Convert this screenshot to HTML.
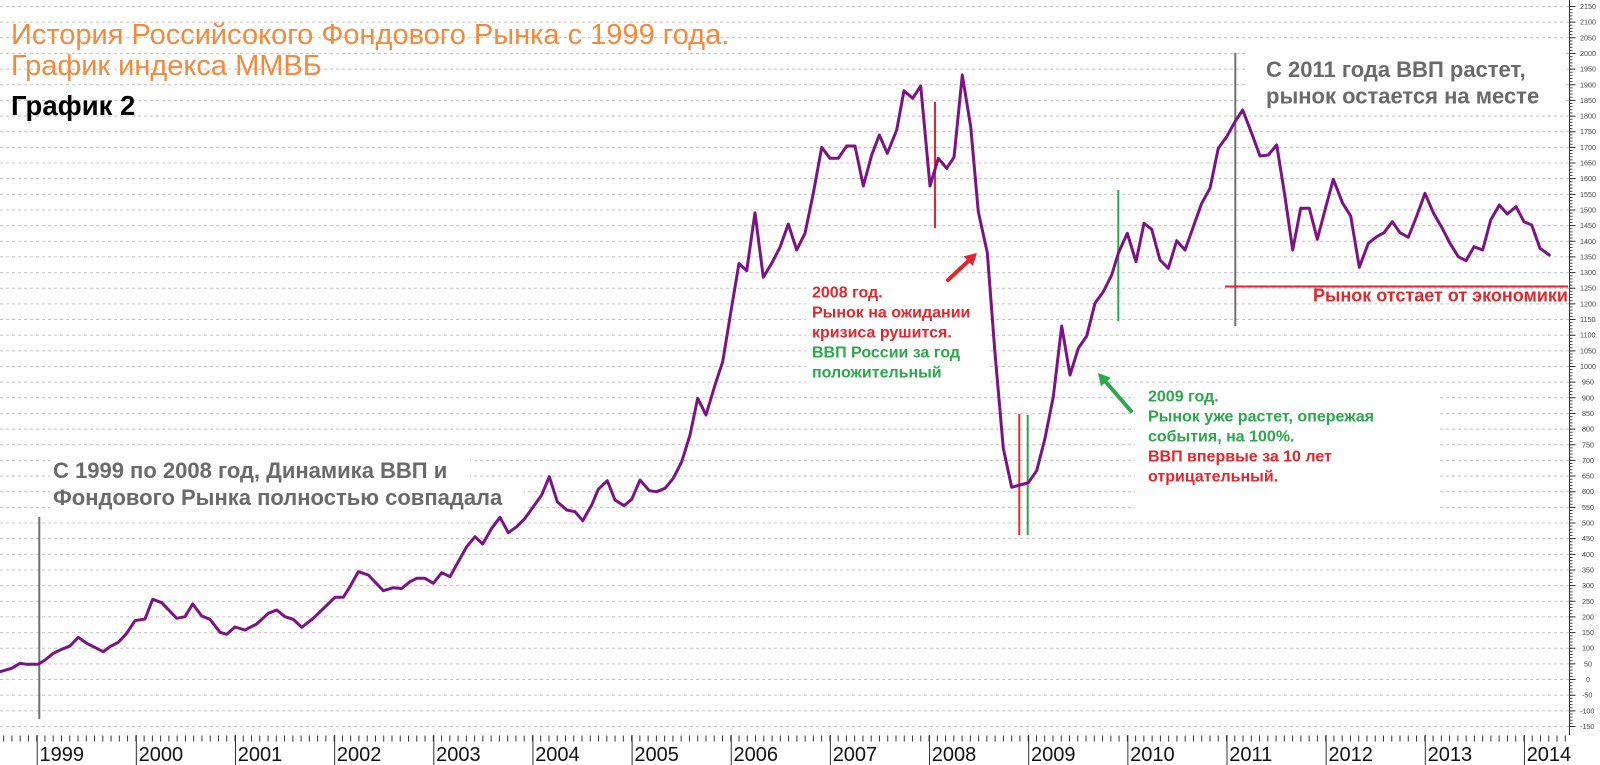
<!DOCTYPE html>
<html><head><meta charset="utf-8"><style>
html,body{margin:0;padding:0;background:#fff;}
svg{display:block;font-family:"Liberation Sans","DejaVu Sans",sans-serif;}
</style></head><body>
<svg width="1600" height="765" viewBox="0 0 1600 765" xmlns="http://www.w3.org/2000/svg">
<rect width="1600" height="765" fill="#fff"/>
<g stroke="#c4c4c4" stroke-width="1" stroke-dasharray="3,3">
<line x1="0" x2="1569" y1="6.5" y2="6.5"/><line x1="0" x2="1569" y1="22.15" y2="22.15"/><line x1="0" x2="1569" y1="37.8" y2="37.8"/><line x1="0" x2="1569" y1="53.46" y2="53.46"/><line x1="0" x2="1569" y1="69.11" y2="69.11"/><line x1="0" x2="1569" y1="84.76" y2="84.76"/><line x1="0" x2="1569" y1="100.41" y2="100.41"/><line x1="0" x2="1569" y1="116.07" y2="116.07"/><line x1="0" x2="1569" y1="131.72" y2="131.72"/><line x1="0" x2="1569" y1="147.37" y2="147.37"/><line x1="0" x2="1569" y1="163.02" y2="163.02"/><line x1="0" x2="1569" y1="178.67" y2="178.67"/><line x1="0" x2="1569" y1="194.33" y2="194.33"/><line x1="0" x2="1569" y1="209.98" y2="209.98"/><line x1="0" x2="1569" y1="225.63" y2="225.63"/><line x1="0" x2="1569" y1="241.28" y2="241.28"/><line x1="0" x2="1569" y1="256.93" y2="256.93"/><line x1="0" x2="1569" y1="272.59" y2="272.59"/><line x1="0" x2="1569" y1="288.24" y2="288.24"/><line x1="0" x2="1569" y1="303.89" y2="303.89"/><line x1="0" x2="1569" y1="319.54" y2="319.54"/><line x1="0" x2="1569" y1="335.2" y2="335.2"/><line x1="0" x2="1569" y1="350.85" y2="350.85"/><line x1="0" x2="1569" y1="366.5" y2="366.5"/><line x1="0" x2="1569" y1="382.15" y2="382.15"/><line x1="0" x2="1569" y1="397.8" y2="397.8"/><line x1="0" x2="1569" y1="413.46" y2="413.46"/><line x1="0" x2="1569" y1="429.11" y2="429.11"/><line x1="0" x2="1569" y1="444.76" y2="444.76"/><line x1="0" x2="1569" y1="460.41" y2="460.41"/><line x1="0" x2="1569" y1="476.07" y2="476.07"/><line x1="0" x2="1569" y1="491.72" y2="491.72"/><line x1="0" x2="1569" y1="507.37" y2="507.37"/><line x1="0" x2="1569" y1="523.02" y2="523.02"/><line x1="0" x2="1569" y1="538.67" y2="538.67"/><line x1="0" x2="1569" y1="554.33" y2="554.33"/><line x1="0" x2="1569" y1="569.98" y2="569.98"/><line x1="0" x2="1569" y1="585.63" y2="585.63"/><line x1="0" x2="1569" y1="601.28" y2="601.28"/><line x1="0" x2="1569" y1="616.93" y2="616.93"/><line x1="0" x2="1569" y1="632.59" y2="632.59"/><line x1="0" x2="1569" y1="648.24" y2="648.24"/><line x1="0" x2="1569" y1="663.89" y2="663.89"/><line x1="0" x2="1569" y1="679.54" y2="679.54"/><line x1="0" x2="1569" y1="695.2" y2="695.2"/><line x1="0" x2="1569" y1="710.85" y2="710.85"/><line x1="0" x2="1569" y1="726.5" y2="726.5"/>
</g>
<!-- white text backgrounds -->
<g fill="#fff">
<rect x="50" y="459" width="420" height="24"/>
<rect x="50" y="483" width="474" height="26"/>
<rect x="1247" y="44" width="318" height="70"/>
<rect x="806" y="283" width="182" height="102"/>
<rect x="1135" y="384" width="302" height="124"/>
</g>
<!-- right axis -->
<line x1="1569.5" y1="0" x2="1569.5" y2="735" stroke="#333" stroke-width="1"/>
<line x1="1571" y1="6" x2="1571" y2="727" stroke="#444" stroke-width="3" stroke-dasharray="1 2.1304"/>
<line x1="1572.5" y1="6" x2="1572.5" y2="727" stroke="#333" stroke-width="6" stroke-dasharray="1 14.652"/>
<g font-size="7.2" fill="#444">
<text x="1580" y="9">2150</text><text x="1580" y="24.6">2100</text><text x="1580" y="40.3">2050</text><text x="1580" y="56">2000</text><text x="1580" y="71.6">1950</text><text x="1580" y="87.3">1900</text><text x="1580" y="102.9">1850</text><text x="1580" y="118.6">1800</text><text x="1580" y="134.2">1750</text><text x="1580" y="149.9">1700</text><text x="1580" y="165.5">1650</text><text x="1580" y="181.2">1600</text><text x="1580" y="196.8">1550</text><text x="1580" y="212.5">1500</text><text x="1580" y="228.1">1450</text><text x="1580" y="243.8">1400</text><text x="1580" y="259.4">1350</text><text x="1580" y="275.1">1300</text><text x="1580" y="290.7">1250</text><text x="1580" y="306.4">1200</text><text x="1580" y="322">1150</text><text x="1580" y="337.7">1100</text><text x="1580" y="353.4">1050</text><text x="1580" y="369">1000</text><text x="1582" y="384.7">950</text><text x="1582" y="400.3">900</text><text x="1582" y="416">850</text><text x="1582" y="431.6">800</text><text x="1582" y="447.3">750</text><text x="1582" y="462.9">700</text><text x="1582" y="478.6">650</text><text x="1582" y="494.2">600</text><text x="1582" y="509.9">550</text><text x="1582" y="525.5">500</text><text x="1582" y="541.2">450</text><text x="1582" y="556.8">400</text><text x="1582" y="572.5">350</text><text x="1582" y="588.1">300</text><text x="1582" y="603.8">250</text><text x="1582" y="619.4">200</text><text x="1582" y="635.1">150</text><text x="1582" y="650.7">100</text><text x="1584" y="666.4">50</text><text x="1586" y="682">0</text><text x="1582" y="697.7">-50</text><text x="1580" y="713.4">-100</text><text x="1580" y="729">-150</text>
</g>
<!-- bottom axis -->
<line x1="3.15" y1="738.5" x2="1569" y2="738.5" stroke="#333" stroke-width="6" stroke-dasharray="1 7.2625"/>
<g stroke="#333" stroke-width="1">
<line x1="37.2" y1="735" x2="37.2" y2="765"/><line x1="136.35" y1="735" x2="136.35" y2="765"/><line x1="235.5" y1="735" x2="235.5" y2="765"/><line x1="334.65" y1="735" x2="334.65" y2="765"/><line x1="433.8" y1="735" x2="433.8" y2="765"/><line x1="532.95" y1="735" x2="532.95" y2="765"/><line x1="632.1" y1="735" x2="632.1" y2="765"/><line x1="731.25" y1="735" x2="731.25" y2="765"/><line x1="830.4" y1="735" x2="830.4" y2="765"/><line x1="929.55" y1="735" x2="929.55" y2="765"/><line x1="1028.7" y1="735" x2="1028.7" y2="765"/><line x1="1127.85" y1="735" x2="1127.85" y2="765"/><line x1="1227" y1="735" x2="1227" y2="765"/><line x1="1326.15" y1="735" x2="1326.15" y2="765"/><line x1="1425.3" y1="735" x2="1425.3" y2="765"/><line x1="1524.45" y1="735" x2="1524.45" y2="765"/>
</g>
<g font-size="20" fill="#111">
<text x="39.5" y="761">1999</text><text x="138.6" y="761">2000</text><text x="237.8" y="761">2001</text><text x="336.9" y="761">2002</text><text x="436.1" y="761">2003</text><text x="535.2" y="761">2004</text><text x="634.4" y="761">2005</text><text x="733.5" y="761">2006</text><text x="832.7" y="761">2007</text><text x="931.8" y="761">2008</text><text x="1031" y="761">2009</text><text x="1130.1" y="761">2010</text><text x="1229.3" y="761">2011</text><text x="1328.4" y="761">2012</text><text x="1427.6" y="761">2013</text><text x="1526.7" y="761">2014</text>
</g>
<!-- annotation lines -->
<line x1="39.3" y1="517" x2="39.3" y2="719" stroke="#707070" stroke-width="2"/>
<line x1="1235.3" y1="53" x2="1235.3" y2="326" stroke="#707070" stroke-width="2"/>
<line x1="1225" y1="286.5" x2="1568" y2="286.5" stroke="#e5252b" stroke-width="2"/>
<line x1="935" y1="102" x2="935" y2="228" stroke="#e5252b" stroke-width="2"/>
<line x1="1019.3" y1="414" x2="1019.3" y2="535" stroke="#e5252b" stroke-width="2"/>
<line x1="1027.7" y1="415" x2="1027.7" y2="535" stroke="#2aa84a" stroke-width="2"/>
<line x1="1118.3" y1="190" x2="1118.3" y2="321" stroke="#2aa84a" stroke-width="2"/>
<!-- series -->
<polyline fill="none" stroke="#7b1285" stroke-width="3" stroke-linejoin="round" stroke-linecap="round" points="0,671.7 11.7,668.3 20,663.3 26.7,664.3 38.3,664.3 45,660 53.3,653.3 61.7,649.3 70,646 78.3,637.3 86.7,643.3 103.3,651.7 110,646.7 118.3,642.3 126.7,633.3 135,620.7 145,619 152.7,599.3 161.7,602.7 176.7,618.3 185,616.7 192.7,604 201.7,616 210,619.3 220,632.3 226.7,634.3 235,627 245,630 256.7,624 268.3,613.3 276.7,610 285,616.7 293.3,619.3 301.7,627.3 313.3,618.3 335,597.3 343.3,597.3 350,586.7 358.3,571.7 368.3,575 383.3,590.7 393.3,587.7 401.7,588.5 410,581.7 416.7,578.3 425,578.3 433.3,583.3 441.7,572.7 450,576.7 458.3,561.7 466.7,546.7 475,536.7 482.7,544 491.7,528.3 500,517.3 508.3,532.7 516.7,526.7 525,518.3 533.3,506.7 541.7,495 549.3,476.7 557.3,501.7 566.7,510 575,511.7 582.7,520.7 591.7,505 598.3,489.3 607.3,480.7 615,500 624,505.7 631.7,499.3 640,480 649.3,490.7 656.7,491.7 665,488.3 673.3,478.3 681.7,461.7 690,435 697.7,398.3 706,415 715,385 722.7,361.7 731.7,306.7 739,263.5 746.7,270.7 755,212.7 763.3,277.3 771.7,263.3 780,247.3 788.3,224 796.7,250 805,233.3 813.3,193.3 821.7,147.3 830,158.3 838.3,158.3 846.7,146 855,146 863.3,186 871.7,155 879.3,135 887.3,153.3 896.7,130 904,90.7 912.7,98.3 920.7,86 930,186 938.3,158.3 946.7,168.3 954,157.3 962.3,75 970.7,126.7 978.3,211.7 987.3,252.7 995,353.3 1003.3,448.3 1011.7,487.3 1020,485 1028.3,482.7 1036.7,470.7 1045,438.3 1053.3,396.7 1061.7,326 1070,375 1078.3,348.3 1086.7,336 1095,303.3 1103.3,291.7 1111.7,275 1118.3,253.3 1127.3,233.3 1136,261.7 1144,223.3 1151.7,229.3 1160,260 1168.3,268.3 1176.7,240.7 1185,250 1193.3,226.7 1201.7,203.3 1210,188.3 1218.3,148.3 1226.7,136.7 1235,121.7 1242.7,110 1251.7,133.3 1260,156 1268.3,155 1276.7,145 1285,196.7 1292.7,250 1300.7,208.3 1309.3,208.3 1317.3,239.3 1325,210 1333.3,179.3 1342.7,203.3 1350.7,216 1359.3,267.3 1368.3,243.3 1376.7,236.7 1384,232.7 1392.3,221.7 1400,232.7 1408.3,237.3 1416.7,216 1425,193.3 1433.3,212.7 1441.7,227.3 1450,243.3 1458.3,256.7 1466,260.7 1474,246.7 1482.7,250 1490.7,220 1499.3,205 1507.3,214 1516,206.7 1524,221.7 1531.7,225 1540,248.3 1549.3,255"/>
<!-- arrows -->
<line x1="948" y1="280" x2="968.2" y2="261.2" stroke="#e5252b" stroke-width="4" stroke-linecap="round"/>
<polygon points="977,253 972.8,266 963.6,256.4" fill="#e5252b"/>
<line x1="1131" y1="411" x2="1105.9" y2="382.1" stroke="#2aa84a" stroke-width="4" stroke-linecap="round"/>
<polygon points="1098,373 1110.9,377.8 1100.9,386.4" fill="#2aa84a"/>
<!-- titles -->
<text x="11" y="44" font-size="29" fill="#f5893b">История Российсокого Фондового Рынка с 1999 года.</text>
<text x="11" y="75" font-size="29" fill="#f5893b">График индекса ММВБ</text>
<text x="11" y="115" font-size="27.5" font-weight="bold" fill="#000">График 2</text>
<g font-size="22" font-weight="bold" fill="#6a6a6a">
<text x="53" y="478">С 1999 по 2008 год, Динамика ВВП и</text>
<text x="53" y="505">Фондового Рынка полностью совпадала</text>
<text x="1266" y="77">С 2011 года ВВП растет,</text>
<text x="1266" y="103.5">рынок остается на месте</text>
</g>
<g font-size="16" font-weight="bold">
<text x="812" y="297.5" fill="#e5252b">2008 год.</text>
<text x="812" y="317.5" fill="#e5252b">Рынок на ожидании</text>
<text x="812" y="337.5" fill="#e5252b">кризиса рушится.</text>
<text x="812" y="357.5" fill="#2aa84a">ВВП России за год</text>
<text x="812" y="377.5" fill="#2aa84a">положительный</text>
<text x="1148" y="401.7" fill="#2aa84a">2009 год.</text>
<text x="1148" y="421.7" fill="#2aa84a">Рынок уже растет, опережая</text>
<text x="1148" y="441.7" fill="#2aa84a">события, на 100%.</text>
<text x="1148" y="461.7" fill="#e5252b">ВВП впервые за 10 лет</text>
<text x="1148" y="481.7" fill="#e5252b">отрицательный.</text>
</g>
<text x="1313" y="301.7" font-size="18" font-weight="bold" fill="#e5252b">Рынок отстает от экономики</text>
</svg>
</body></html>
